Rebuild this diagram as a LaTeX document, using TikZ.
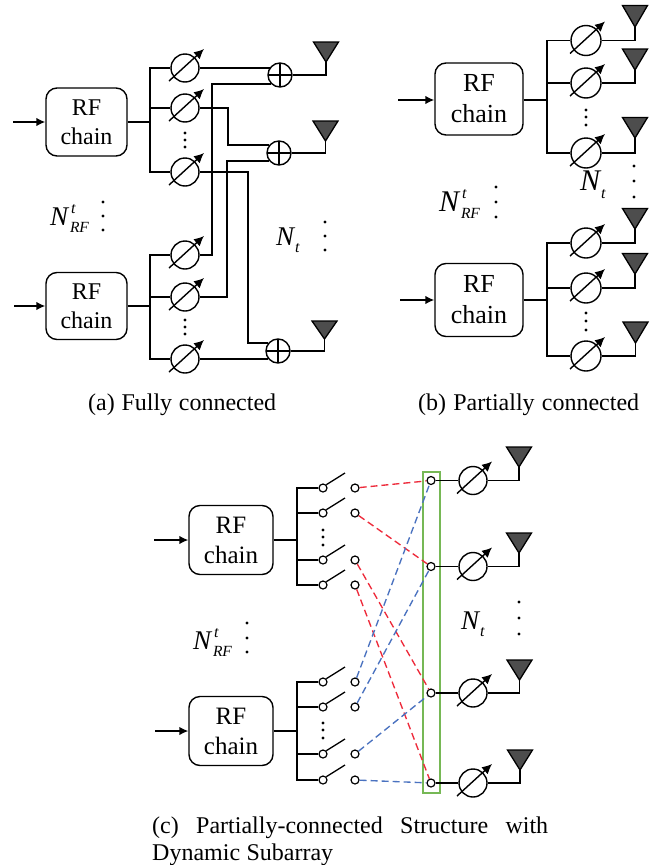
\documentclass[tikz,border=0pt]{standalone}
\usepackage{fontspec}
\setmainfont{Liberation Serif}
\usetikzlibrary{arrows.meta,calc}
\definecolor{antgray}{HTML}{4D4D4D}
\definecolor{dred}{HTML}{EE2B3B}
\definecolor{dblue}{HTML}{4A72C0}
\definecolor{dgreen}{HTML}{76B855}
\newcommand{\fs}[1]{\fontsize{#1}{#1}\selectfont}
\tikzset{
  x=1pt,y=-1pt,
  wire/.style={line width=1.4pt,black,line join=miter},
  busline/.style={line width=1.9pt,black,line cap=rect},
  inarrow/.style={line width=1.4pt,-{Latex[length=9pt,width=8.5pt]}},
  rfbox/.style={draw,line width=1.4pt,rounded corners=11pt,align=center,inner sep=0pt,font=\fs{#1}},
  shifter/.style={draw,circle,line width=1.4pt,minimum size=#1,inner sep=0pt},
  adder/.style={draw,circle,line width=1.4pt,minimum size=24pt,inner sep=0pt,
    path picture={\draw[line width=1.1pt] (path picture bounding box.north)--(path picture bounding box.south)
      (path picture bounding box.west)--(path picture bounding box.east);}},
  contact/.style={draw,circle,fill=white,line width=1.2pt,minimum size=8pt,inner sep=0pt},
  dashred/.style={dred,line width=1.35pt,dash pattern=on 7pt off 4pt},
  dashblue/.style={dblue,line width=1.35pt,dash pattern=on 7pt off 4pt},
  lab/.style={inner sep=0pt,outer sep=0pt},
  captext/.style={inner sep=0pt,anchor=base west,font=\fs{24}},
}
% phase shifter: name, x, y, diameter
\newcommand{\ps}[4][28pt]{%
  \node[shifter=#1] (#2) at (#3,#4) {};
  \draw[line width=1.4pt,-{Latex[length=10pt,width=9.5pt]}] (#3-16,#4+13) -- (#3+19,#4-19);}
% antenna: name, x of centre, top y, tip y
\newcommand{\ant}[4]{%
  \coordinate (#1) at (#2,#4);
  \draw[line width=1.3pt,fill=antgray,line join=miter] (#2-12.5,#3) -- (#2+12.5,#3) -- (#1) -- cycle;}
\newcommand{\tridots}[4]{\foreach \yy in {#2,#3,#4}{\fill (#1,\yy) circle (1.7pt);}}
\newcommand{\NRF}[1]{{\fs{#1}\itshape N\hspace{2pt}\rlap{\raisebox{0.42em}{\fs{16}\hspace{1pt}t}}\raisebox{-0.26em}{\fs{15.5}RF}}}
\newcommand{\Nt}[1]{{\fs{#1}\itshape N\raisebox{-0.27em}{\fs{16}\hspace{1pt}t}}}
\begin{document}
\begin{tikzpicture}
\useasboundingbox (0,0) rectangle (661,865);
\fill[white] (0,0) rectangle (661,865);

%% ===== (a) =====
\node[rfbox=24,minimum width=81pt,minimum height=68pt] (ar1) at (86.5,122) {RF\\[5pt]chain};
\node[rfbox=24,minimum width=81pt,minimum height=67pt] (ar2) at (86.5,306) {RF\\[5pt]chain};
\coordinate (ai1) at (13,122);
\coordinate (ai2) at (14,306);
\draw[inarrow] (ai1) -- (ar1);
\draw[inarrow] (ai2) -- (ar2);
\coordinate (ab1) at (150,122);
\coordinate (ab2) at (150,306);
\draw[wire] (ar1) -- (ab1);
\draw[wire] (ar2) -- (ab2);
\ps{as1}{185}{68}
\ps{as2}{185}{108}
\ps{as3}{185}{172}
\ps{as4}{185}{255}
\ps{as5}{185}{297}
\ps{as6}{185}{359}
\draw[busline] (as1.west -| ab1) -- (as3.west -| ab1);
\draw[busline] (as4.west -| ab2) -- (as6.west -| ab2);
\foreach \s in {as1,as2,as3}{\draw[wire] (\s.west) -- (\s.west -| ab1);}
\foreach \s in {as4,as5,as6}{\draw[wire] (\s.west) -- (\s.west -| ab2);}
\node[adder] (add1) at (280,75) {};
\node[adder] (add2) at (279,153) {};
\node[adder] (add3) at (278,351) {};
\ant{aa1}{326}{42}{62}
\ant{aa2}{325.5}{121}{141}
\ant{aa3}{324.5}{321}{339}
\draw[wire] (add1.east) -| (aa1);
\draw[wire] (add2.east) -| (aa2);
\draw[wire] (add3.east) -| (aa3);
\coordinate (av1) at (212,0);
\coordinate (av2) at (228,0);
\coordinate (av3) at (227,0);
\coordinate (av4) at (248,0);
\draw[wire] (as1.east) -- (as1.east -| add1.148) -- (add1.148);
\draw[wire] (as4.east) -| (av1 |- add1.225) -- (add1.225);
\draw[wire] (as2.east) -| (av2 |- add2.140) -- (add2.140);
\draw[wire] (as5.east) -| (av3 |- add2.220) -- (add2.220);
\draw[wire] (as3.east) -| (av4 |- add3.140) -- (add3.140);
\draw[wire] (as6.east) -- (as6.east -| add3.220);
\tridots{185}{133}{140}{147}
\tridots{185}{320}{327}{334}
\tridots{103}{202}{216}{230}
\tridots{325}{222}{236}{250}
\node[lab,anchor=base west] (alab1) at (50,225) {\NRF{27}};
\node[lab,anchor=base west] (alab2) at (276,245) {\Nt{27}};
\node[captext] (acap) at (88,410) {\makebox[188pt][s]{(a)\hfill Fully\hfill connected}};

%% ===== (b) =====
\node[rfbox=26,minimum width=88pt,minimum height=72pt] (br1) at (479,99) {RF\\[5pt]chain};
\node[rfbox=26,minimum width=88pt,minimum height=73pt] (br2) at (479,300) {RF\\[5pt]chain};
\coordinate (bi1) at (398,100);
\coordinate (bi2) at (400,300);
\draw[inarrow] (bi1) -- (br1.west |- bi1);
\draw[inarrow] (bi2) -- (br2.west |- bi2);
\coordinate (bb1) at (547,100);
\coordinate (bb2) at (547,300);
\draw[wire] (br1.east |- bb1) -- (bb1);
\draw[wire] (br2.east |- bb2) -- (bb2);
\ps[30pt]{bs1}{586}{40.5}
\ps[30pt]{bs2}{586}{83}
\ps[30pt]{bs3}{586}{153}
\ps[30pt]{bs4}{586}{243}
\ps[30pt]{bs5}{586}{288}
\ps[30pt]{bs6}{586}{356}
\draw[busline] (bs1.west -| bb1) -- (bs3.west -| bb1);
\draw[busline] (bs4.west -| bb2) -- (bs6.west -| bb2);
\foreach \s in {bs1,bs2,bs3}{\draw[wire] (\s.west) -- (\s.west -| bb1);}
\foreach \s in {bs4,bs5,bs6}{\draw[wire] (\s.west) -- (\s.west -| bb2);}
\ant{ba1}{635}{5.5}{27}
\ant{ba2}{635}{49}{70}
\ant{ba3}{635}{117.5}{138}
\ant{ba4}{635}{208.5}{229}
\ant{ba5}{635}{253.5}{274}
\ant{ba6}{635.5}{322}{343}
\draw[wire] (bs1.east) -| (ba1);
\draw[wire] (bs2.east) -| (ba2);
\draw[wire] (bs3.east) -| (ba3);
\draw[wire] (bs4.east) -| (ba4);
\draw[wire] (bs5.east) -| (ba5);
\draw[wire] (bs6.east) -| (ba6);
\tridots{586}{110}{117}{125}
\tridots{586}{313}{321}{330}
\tridots{496}{187}{202}{217}
\tridots{634}{166}{181}{197}
\node[lab,anchor=base west] (blab1) at (439,211) {\NRF{30}};
\node[lab,anchor=base west] (blab2) at (580,190) {\Nt{30}};
\node[captext] (bcap) at (418,410) {\makebox[221pt][s]{(b)\hfill Partially\hfill connected}};

%% ===== (c) =====
\node[rfbox=25,minimum width=84pt,minimum height=69pt] (cr1) at (231,540) {RF\\[5pt]chain};
\node[rfbox=25,minimum width=84pt,minimum height=69pt] (cr2) at (231,731) {RF\\[5pt]chain};
\coordinate (ci1) at (154,540);
\coordinate (ci2) at (155,731);
\draw[inarrow] (ci1) -- (cr1);
\draw[inarrow] (ci2) -- (cr2);
\coordinate (cb1) at (297,540);
\coordinate (cb2) at (297,731);
\draw[wire] (cr1) -- (cb1);
\draw[wire] (cr2) -- (cb2);
\draw[dgreen,line width=1.4pt] (423,472) rectangle (440,793);
\foreach \n/\yy/\b in {1/488/cb1,2/513/cb1,3/560/cb1,4/585/cb1,5/682/cb2,6/707/cb2,7/754/cb2,8/780/cb2}{
  \node[contact] (cl\n) at (323,\yy) {};
  \node[contact] (cc\n) at (355,\yy) {};
  \coordinate (bl\n) at (345,\yy-15);
  \draw[wire] (cl\n.west) -- (cl\n.west -| \b);
  \draw[line width=1.3pt] (cl\n.45) -- (bl\n);
}
\draw[busline] (cl1.west -| cb1) -- (cl4.west -| cb1);
\draw[busline] (cl5.west -| cb2) -- (cl8.west -| cb2);
\ps{cs1}{473}{480.5}
\ps{cs2}{473}{566.5}
\ps{cs3}{473}{693}
\ps{cs4}{473}{783}
\foreach \n/\yy in {1/480.5,2/566.5,3/693,4/783}{
  \node[contact] (cp\n) at (431,\yy) {};
  \draw[wire] (cp\n) -- (cs\n);
}
\ant{ca1}{519}{447}{467}
\ant{ca2}{519}{533}{553}
\ant{ca3}{519.5}{660}{680}
\ant{ca4}{520}{750}{770}
\draw[wire] (cs1.east) -| (ca1);
\draw[wire] (cs2.east) -| (ca2);
\draw[wire] (cs3.east) -| (ca3);
\draw[wire] (cs4.east) -| (ca4);
\draw[dashred] (cc1) -- (cp1);
\draw[dashred] (cc2) -- (cp2);
\draw[dashred] (cc3) -- (cp3);
\draw[dashred] (cc4) -- (cp4);
\draw[dashblue] (cc5) -- (cp1);
\draw[dashblue] (cc6) -- (cp2);
\draw[dashblue] (cc7) -- (cp3);
\draw[dashblue] (cc8) -- (cp4);
\tridots{323}{530}{537}{545}
\tridots{323}{723}{730}{738}
\tridots{247}{623}{638}{652}
\tridots{519}{602}{618}{634}
\node[lab,anchor=base west] (clab1) at (193,649) {\NRF{27}};
\node[lab,anchor=base west] (clab2) at (461,629) {\Nt{27}};
\node[captext] (ccap1) at (152,833) {\makebox[396pt][s]{(c)\hfill Partially-connected\hfill Structure\hfill with}};
\node[captext] (ccap2) at (152,860) {\makebox[181pt][s]{Dynamic\hfill Subarray}};
\end{tikzpicture}
\end{document}
